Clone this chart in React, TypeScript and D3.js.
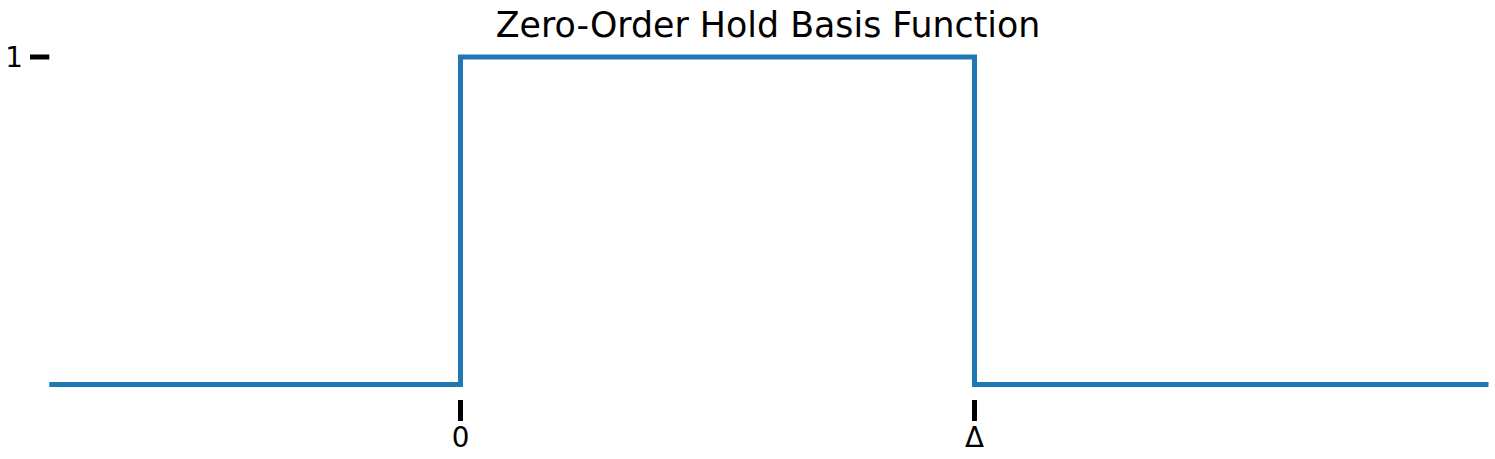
import * as React from 'react';
import { useEffect, useRef } from 'react';
import * as d3 from 'd3';

const title = 'Zero-Order Hold Basis Function';

// step function: x positions (in units of Δ) and values
const xs = [-0.8, 0, 0, 1, 1, 2];
const ys = [0, 0, 1, 1, 0, 0];

const xTicks = [0, 1];
const xTickLabels = ['0', 'Δ'];
const yTicks = [1];
const yTickLabels = ['1'];

const W = 1495;
const H = 459;

const App: React.FC = () => {
    const svgRef = useRef<SVGSVGElement | null>(null);

    useEffect(() => {
        if (!svgRef.current) return;
        const svg = d3.select(svgRef.current);
        svg.selectAll('*').remove();

        const xScale = d3.scaleLinear().domain([-0.8, 2]).range([49.3, 1488.5]);
        const yScale = d3.scaleLinear().domain([0, 1]).range([384.5, 57]);

        const line = d3.line<number>()
            .x((_, i) => xScale(xs[i]))
            .y(d => yScale(d));

        svg.append('path')
            .attr('d', line(ys))
            .attr('fill', 'none')
            .attr('stroke', '#1f77b4')
            .attr('stroke-width', 5)
            .attr('stroke-linejoin', 'miter')
            .attr('stroke-linecap', 'butt');

        // x ticks (no spine)
        const xg = svg.append('g');
        xTicks.forEach((t, i) => {
            xg.append('line')
                .attr('x1', xScale(t)).attr('x2', xScale(t))
                .attr('y1', 400).attr('y2', 421)
                .attr('stroke', '#000').attr('stroke-width', 5);
            xg.append('text')
                .attr('x', xScale(t)).attr('y', 446.5)
                .attr('text-anchor', 'middle')
                .attr('font-family', 'DejaVu Sans')
                .attr('font-size', 27.8)
                .text(xTickLabels[i]);
        });

        // y ticks
        const yg = svg.append('g');
        yTicks.forEach((t, i) => {
            yg.append('line')
                .attr('x1', 30).attr('x2', 49.3)
                .attr('y1', yScale(t)).attr('y2', yScale(t))
                .attr('stroke', '#000').attr('stroke-width', 5);
            yg.append('text')
                .attr('x', 23).attr('y', yScale(t))
                .attr('dy', '0.37em')
                .attr('text-anchor', 'end')
                .attr('font-family', 'DejaVu Sans')
                .attr('font-size', 27.8)
                .text(yTickLabels[i]);
        });

        svg.append('text')
            .attr('x', 768).attr('y', 37)
            .attr('text-anchor', 'middle')
            .attr('font-family', 'DejaVu Sans')
            .attr('font-size', 34.8)
            .text(title);
    }, []);

    return (
        <svg ref={svgRef} width={W} height={H}
            style={{ position: 'absolute', left: 0, top: 0, background: '#fff' }} />
    );
};

export default App;
